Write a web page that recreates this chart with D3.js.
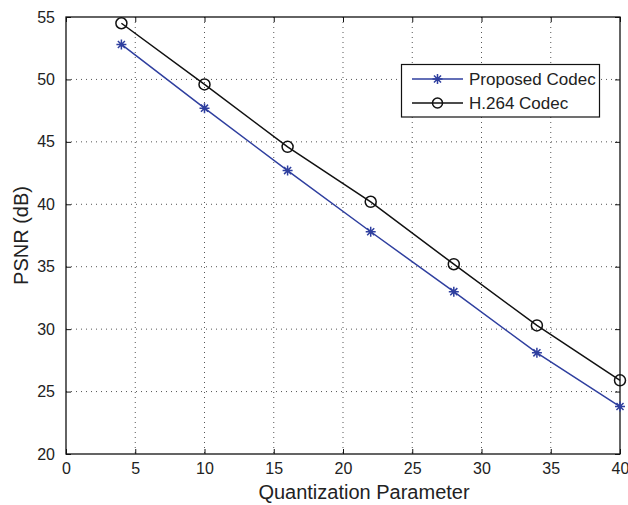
<!DOCTYPE html>
<html>
<head>
<meta charset="utf-8">
<script src="https://d3js.org/d3.v7.min.js"></script>
<style>
  body { margin: 0; background: #fff; }
  text { font-family: "Liberation Sans", Arial, Helvetica, sans-serif; fill: #222; }
</style>
</head>
<body>
<script>
// data
var qp = [4, 10, 16, 22, 28, 34, 40];
var proposed = [52.8, 47.7, 42.7, 37.8, 33.0, 28.1, 23.8];
var h264 = [54.5, 49.6, 44.6, 40.2, 35.2, 30.3, 25.9];
var xTicks = [0, 5, 10, 15, 20, 25, 30, 35, 40];
var yTicks = [20, 25, 30, 35, 40, 45, 50, 55];
var seriesNames = ["Proposed Codec", "H.264 Codec"];

var W = 628, H = 505;
var m = { top: 17, right: 8, bottom: 51, left: 66 };
var w = W - m.left - m.right, h = H - m.top - m.bottom;
var blue = "#2f3f9f";

var svg = d3.select("body").append("svg").attr("width", W).attr("height", H);
var g = svg.append("g").attr("transform", "translate(" + m.left + "," + m.top + ")");

var x = d3.scaleLinear().domain([0, 40]).range([0, w]);
var y = d3.scaleLinear().domain([20, 55]).range([h, 0]);

// dotted grid
g.selectAll(".gx").data(xTicks.slice(1, -1)).enter().append("line")
  .attr("x1", d => x(d)).attr("x2", d => x(d)).attr("y1", 0).attr("y2", h)
  .attr("stroke", "#555").attr("stroke-width", 1).attr("stroke-dasharray", "1,4");
g.selectAll(".gy").data(yTicks.slice(1, -1)).enter().append("line")
  .attr("y1", d => y(d)).attr("y2", d => y(d)).attr("x1", 0).attr("x2", w)
  .attr("stroke", "#555").attr("stroke-width", 1).attr("stroke-dasharray", "1,4");

// axes with inner ticks (matlab style)
function styleAxis(sel) {
  sel.select(".domain").remove();
  sel.selectAll(".tick line").attr("stroke", "#111");
  sel.selectAll("text").style("font-size", "16px").attr("fill", "#222");
}
g.append("g").attr("transform", "translate(0," + h + ")")
  .call(d3.axisBottom(x).tickValues(xTicks).tickSizeInner(-5).tickSizeOuter(0).tickPadding(9))
  .call(styleAxis);
g.append("g")
  .call(d3.axisTop(x).tickValues(xTicks).tickSizeInner(-5).tickSizeOuter(0).tickFormat(""))
  .call(styleAxis);
g.append("g")
  .call(d3.axisLeft(y).tickValues(yTicks).tickSizeInner(-5).tickSizeOuter(0).tickPadding(11))
  .call(styleAxis);
g.append("g").attr("transform", "translate(" + w + ",0)")
  .call(d3.axisRight(y).tickValues(yTicks).tickSizeInner(-5).tickSizeOuter(0).tickFormat(""))
  .call(styleAxis);

g.append("rect").attr("width", w).attr("height", h)
  .attr("fill", "none").attr("stroke", "#111").attr("stroke-width", 1.3);

var line = d3.line().x((d, i) => x(qp[i])).y(d => y(d));

function star(sel, cx, cy, col) {
  var r = 5;
  var p = "";
  for (var k = 0; k < 4; k++) {
    var a = k * Math.PI / 4;
    p += "M" + (cx - r * Math.cos(a)) + "," + (cy - r * Math.sin(a)) +
         "L" + (cx + r * Math.cos(a)) + "," + (cy + r * Math.sin(a));
  }
  sel.append("path").attr("d", p).attr("stroke", col).attr("stroke-width", 1.5).attr("fill", "none");
}

// proposed
g.append("path").datum(proposed).attr("d", line)
  .attr("fill", "none").attr("stroke", blue).attr("stroke-width", 1.5);
proposed.forEach(function (v, i) { star(g, x(qp[i]), y(v), blue); });

// h.264
g.append("path").datum(h264).attr("d", line)
  .attr("fill", "none").attr("stroke", "#111").attr("stroke-width", 1.5);
g.selectAll(".c").data(h264).enter().append("circle")
  .attr("cx", (d, i) => x(qp[i])).attr("cy", d => y(d)).attr("r", 5.5)
  .attr("fill", "none").attr("stroke", "#111").attr("stroke-width", 1.5);

// axis titles
svg.append("text").attr("x", m.left + w / 2 + 21).attr("y", 499)
  .attr("text-anchor", "middle").style("font-size", "20px").text("Quantization Parameter");
svg.append("text").attr("transform", "translate(28," + (m.top + h / 2) + ") rotate(-90)")
  .attr("text-anchor", "middle").style("font-size", "20px").text("PSNR (dB)");

// legend
var lg = svg.append("g");
lg.append("rect").attr("x", 401.5).attr("y", 64.5).attr("width", 198).attr("height", 52.5)
  .attr("fill", "#fff").attr("stroke", "#111").attr("stroke-width", 1.2);
var rows = [79, 103];
lg.append("line").attr("x1", 412).attr("x2", 463).attr("y1", rows[0]).attr("y2", rows[0])
  .attr("stroke", blue).attr("stroke-width", 1.5);
star(lg, 437.5, rows[0], blue);
lg.append("line").attr("x1", 412).attr("x2", 463).attr("y1", rows[1]).attr("y2", rows[1])
  .attr("stroke", "#111").attr("stroke-width", 1.5);
lg.append("circle").attr("cx", 437.5).attr("cy", rows[1]).attr("r", 5)
  .attr("fill", "none").attr("stroke", "#111").attr("stroke-width", 1.5);
seriesNames.forEach(function (s, i) {
  lg.append("text").attr("x", 469).attr("y", rows[i] + 6).style("font-size", "17px").text(s);
});
</script>
</body>
</html>
